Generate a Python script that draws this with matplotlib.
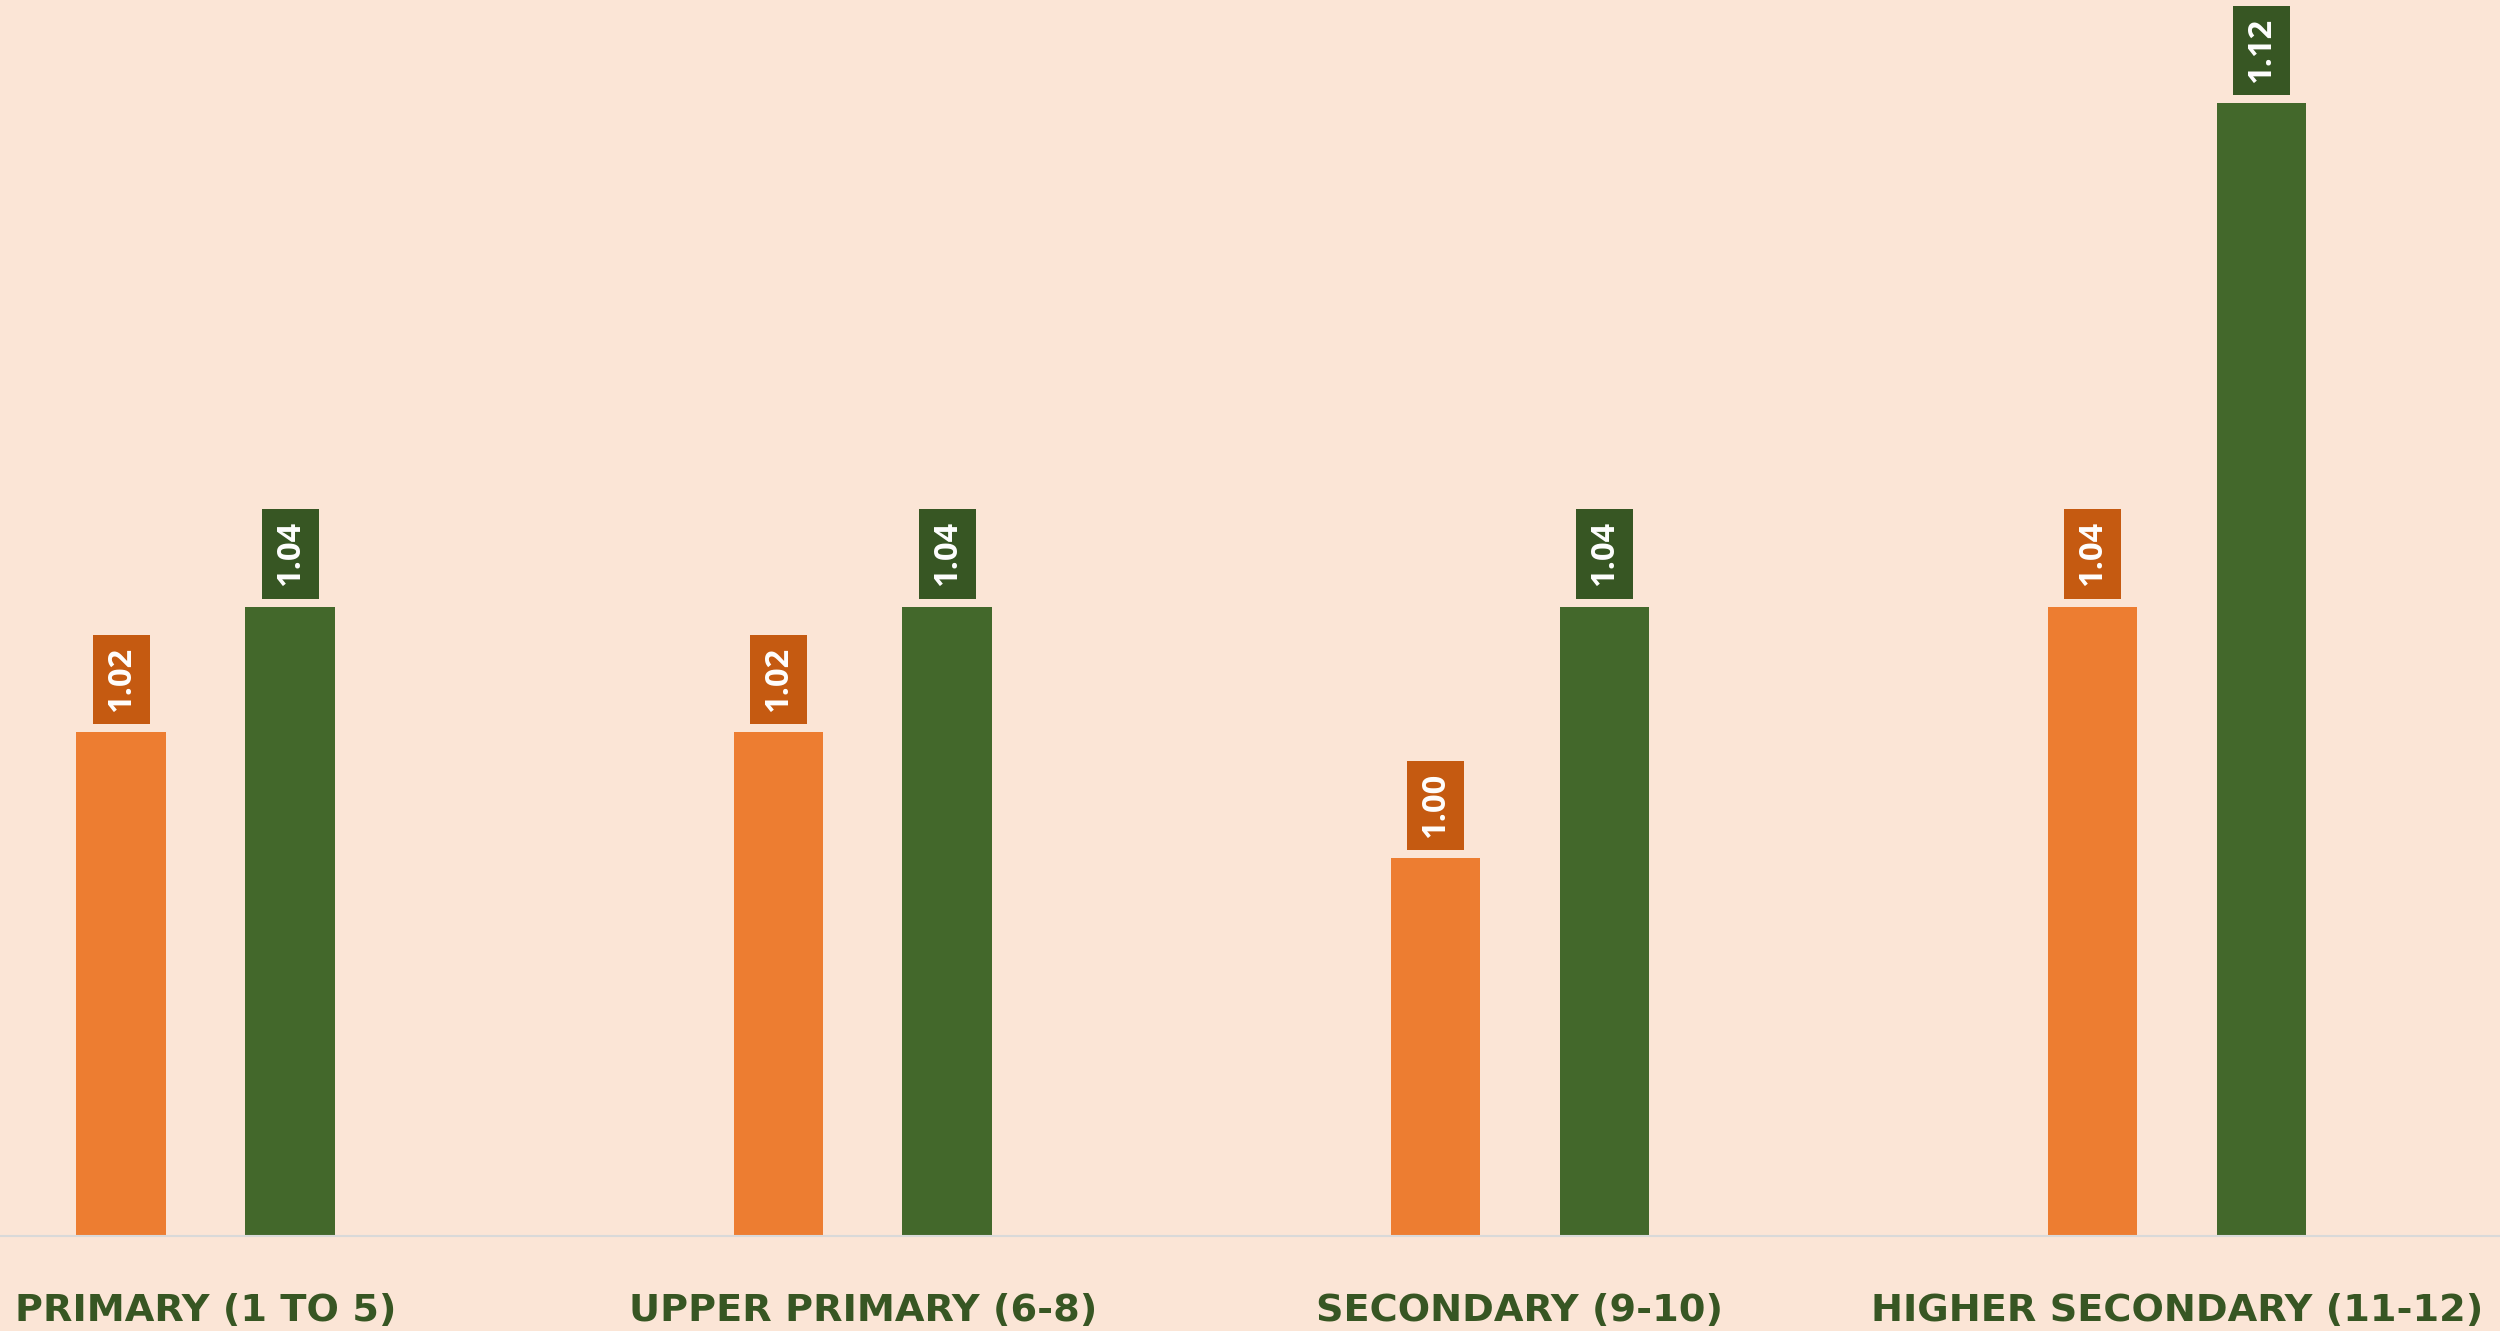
import matplotlib
matplotlib.use("Agg")
import matplotlib.pyplot as plt
import numpy as np

categories = ["PRIMARY (1 TO 5)", "UPPER PRIMARY (6-8)", "SECONDARY (9-10)", "HIGHER SECONDARY (11-12)"]
series_a = [1.02, 1.02, 1.00, 1.04]   # orange
series_b = [1.04, 1.04, 1.04, 1.12]   # green
value_labels_a = ["1.02", "1.02", "1.00", "1.04"]
value_labels_b = ["1.04", "1.04", "1.04", "1.12"]

BG = "#FBE5D6"
ORANGE = "#ED7D31"
ORANGE_DARK = "#C55A11"
GREEN = "#43682B"
GREEN_DARK = "#375623"

W, H = 2500, 1331
fig = plt.figure(figsize=(W / 100, H / 100), dpi=100, facecolor=BG)
base_px = 1236
ax = fig.add_axes([0, (H - base_px) / H, 1, base_px / H])
ax.set_facecolor(BG)

x = np.arange(len(categories))
bw = 0.136
off = 0.1286
ax.bar(x - off, series_a, width=bw, color=ORANGE, zorder=2)
ax.bar(x + off, series_b, width=bw, color=GREEN, zorder=2)

ax.set_xlim(-0.313, 3.492)
ax.set_ylim(0.94, 0.94 + base_px / 6295)

fs_pt = 23.5
fs_px = fs_pt * 100 / 72
pad_px = 12.0
gap_px = 8.0
lab_font = dict(family=["Open Sans", "DejaVu Sans"], weight="bold", size=fs_pt)
off_pt = (gap_px + pad_px) * 72 / 100


def label(xs, vals, texts, fc):
    for xi, v, t in zip(xs, vals, texts):
        ax.annotate(t, xy=(xi, v), xytext=(0, off_pt), textcoords="offset points",
                    rotation=90, ha="center", va="bottom", color="white", **lab_font,
                    bbox=dict(boxstyle=f"square,pad={pad_px / fs_px:.3f}", fc=fc, ec="none"),
                    zorder=3)


label(x - off, series_a, value_labels_a, ORANGE_DARK)
label(x + off, series_b, value_labels_b, GREEN_DARK)

for s in ["top", "left", "right"]:
    ax.spines[s].set_visible(False)
ax.spines["bottom"].set_color("#D9D9D9")
ax.spines["bottom"].set_linewidth(1.5)
ax.set_yticks([])
ax.set_xticks(x)
ax.set_xticklabels(categories, va="baseline", color=GREEN_DARK, fontsize=27.5,
                   fontweight="bold", family="DejaVu Sans")
ax.tick_params(axis="x", length=0, pad=61)

fig.savefig("out.png", dpi=100, facecolor=BG)
